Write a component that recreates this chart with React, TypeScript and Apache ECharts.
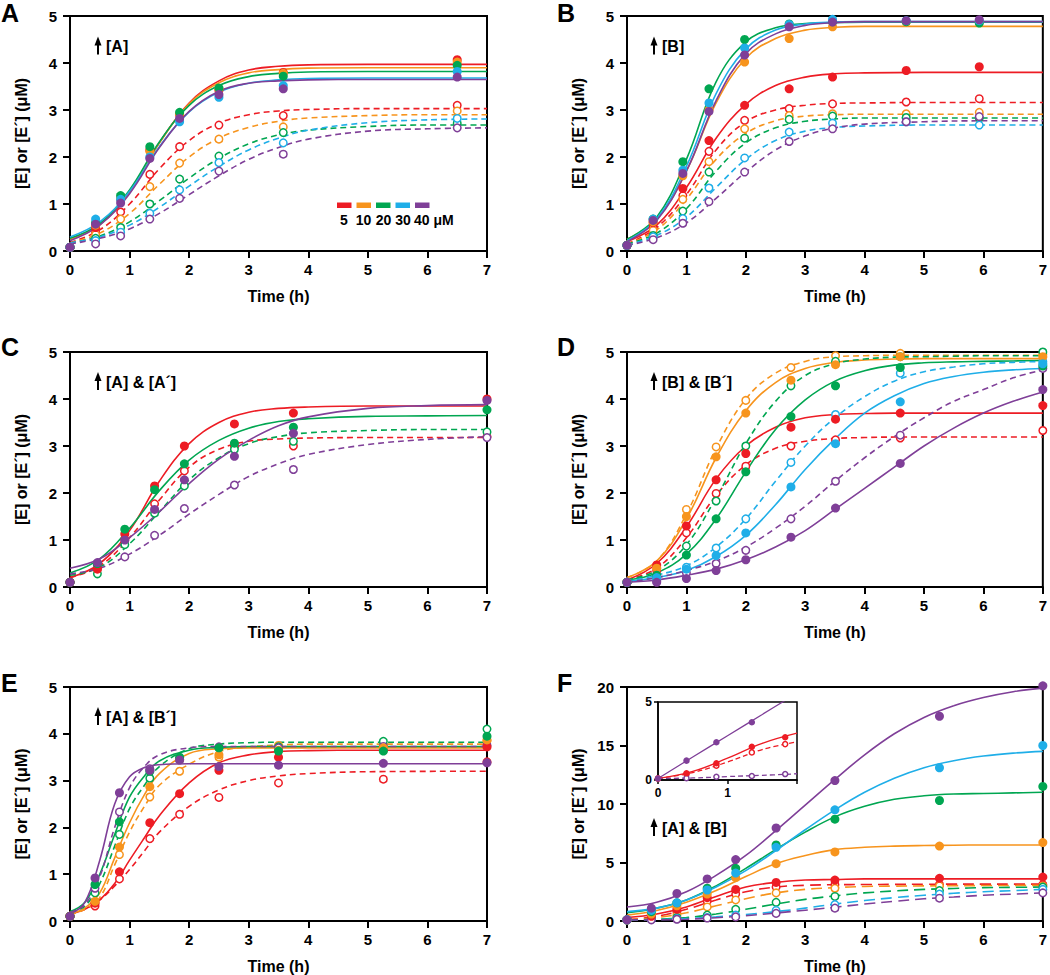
import React, { useEffect, useRef } from 'react';
import * as echarts from 'echarts';

const FONT = '"Liberation Sans", Arial, Helvetica, sans-serif';
const COLORS = ['#ED1C24', '#F7941D', '#00A651', '#1FAEE8', '#7F3F98'];

// fit-curve sample times
const FT12 = [0, 0.5, 1, 1.5, 2, 2.5, 3, 3.5, 4, 5, 6, 7];
const FT15 = [0, 0.5, 1, 1.5, 2, 2.5, 3, 3.5, 4, 4.5, 5, 5.5, 6, 6.5, 7];
const FTE = [0, 0.25, 0.5, 0.75, 1, 1.25, 1.5, 2, 2.5, 3, 3.5, 4, 5, 7];

// ---------- Panel A (red, orange, green, cyan, purple) ----------
const A_T = [0, 0.43, 0.85, 1.34, 1.84, 2.5, 3.58, 6.5];
const A_E = [
  [0.08, 0.5, 1.1, 2.15, 2.9, 3.42, 3.8, 4.07],
  [0.08, 0.55, 1.12, 2.12, 2.92, 3.45, 3.78, 4.02],
  [0.08, 0.6, 1.18, 2.22, 2.95, 3.47, 3.72, 3.95],
  [0.08, 0.68, 1.1, 2.0, 2.75, 3.27, 3.52, 3.82],
  [0.08, 0.57, 1.02, 1.97, 2.82, 3.33, 3.45, 3.7],
];
const A_EP = [
  [0.08, 0.4, 0.83, 1.63, 2.22, 2.68, 2.88, 3.1],
  [0.08, 0.35, 0.68, 1.37, 1.87, 2.38, 2.64, 2.98],
  [0.08, 0.27, 0.5, 1.0, 1.53, 2.02, 2.52, 2.72],
  [0.08, 0.22, 0.4, 0.8, 1.3, 1.88, 2.3, 2.82],
  [0.08, 0.15, 0.32, 0.68, 1.12, 1.7, 2.06, 2.62],
];
const A_FIT_E = [
  [0.25, 0.56, 1.27, 2.3, 3.15, 3.62, 3.85, 3.93, 3.96, 3.97, 3.97, 3.97],
  [0.25, 0.56, 1.27, 2.3, 3.13, 3.58, 3.79, 3.86, 3.89, 3.9, 3.9, 3.9],
  [0.27, 0.58, 1.3, 2.32, 3.1, 3.52, 3.71, 3.78, 3.81, 3.82, 3.82, 3.82],
  [0.3, 0.62, 1.27, 2.22, 2.96, 3.38, 3.57, 3.64, 3.67, 3.68, 3.68, 3.68],
  [0.22, 0.55, 1.22, 2.2, 2.97, 3.4, 3.57, 3.62, 3.64, 3.65, 3.65, 3.65],
];
const A_FIT_EP = [
  [0.18, 0.45, 1.0, 1.75, 2.35, 2.72, 2.9, 2.98, 3.01, 3.03, 3.03, 3.03],
  [0.17, 0.38, 0.8, 1.42, 2.0, 2.4, 2.63, 2.76, 2.83, 2.88, 2.9, 2.9],
  [0.17, 0.32, 0.62, 1.07, 1.55, 1.97, 2.28, 2.47, 2.57, 2.65, 2.68, 2.68],
  [0.17, 0.3, 0.55, 0.93, 1.38, 1.8, 2.15, 2.4, 2.57, 2.73, 2.79, 2.81],
  [0.15, 0.27, 0.47, 0.8, 1.2, 1.6, 1.95, 2.2, 2.38, 2.55, 2.6, 2.62],
];

// ---------- Panel B ----------
const B_T = [0, 0.44, 0.94, 1.38, 1.98, 2.73, 3.46, 4.7, 5.93];
const B_E = [
  [0.12, 0.6, 1.33, 2.35, 3.1, 3.45, 3.7, 3.84, 3.92],
  [0.12, 0.62, 1.6, 3.0, 4.02, 4.52, 4.77, 4.87, 4.87],
  [0.12, 0.68, 1.9, 3.45, 4.5, 4.83, 4.88, 4.88, 4.85],
  [0.12, 0.68, 1.72, 3.15, 4.32, 4.82, 4.93, 4.9, 4.9],
  [0.12, 0.65, 1.65, 2.97, 4.17, 4.77, 4.87, 4.9, 4.92],
];
const B_EP = [
  [0.12, 0.5, 1.18, 2.12, 2.78, 3.03, 3.13, 3.17, 3.24],
  [0.12, 0.44, 1.1, 1.9, 2.6, 2.88, 2.92, 2.92, 2.95],
  [0.12, 0.33, 0.85, 1.68, 2.4, 2.8, 2.87, 2.84, 2.83],
  [0.12, 0.3, 0.69, 1.34, 1.98, 2.53, 2.72, 2.75, 2.68],
  [0.12, 0.24, 0.59, 1.05, 1.68, 2.33, 2.6, 2.75, 2.86],
];
const B_FIT_E = [
  [0.2, 0.55, 1.35, 2.4, 3.12, 3.52, 3.7, 3.77, 3.79, 3.8, 3.8, 3.8],
  [0.25, 0.68, 1.7, 3.15, 4.1, 4.52, 4.7, 4.76, 4.78, 4.78, 4.78, 4.78],
  [0.25, 0.72, 1.95, 3.6, 4.45, 4.75, 4.84, 4.86, 4.87, 4.87, 4.87, 4.87],
  [0.22, 0.68, 1.8, 3.35, 4.3, 4.7, 4.83, 4.87, 4.88, 4.88, 4.88, 4.88],
  [0.2, 0.65, 1.7, 3.2, 4.2, 4.62, 4.8, 4.86, 4.88, 4.88, 4.88, 4.88],
];
const B_FIT_EP = [
  [0.15, 0.5, 1.2, 2.15, 2.75, 3.0, 3.1, 3.14, 3.15, 3.16, 3.16, 3.16],
  [0.15, 0.45, 1.1, 1.95, 2.5, 2.77, 2.87, 2.9, 2.91, 2.91, 2.91, 2.91],
  [0.15, 0.38, 0.9, 1.7, 2.3, 2.62, 2.76, 2.81, 2.83, 2.83, 2.83, 2.83],
  [0.13, 0.33, 0.72, 1.35, 1.95, 2.35, 2.55, 2.63, 2.66, 2.68, 2.68, 2.68],
  [0.12, 0.28, 0.6, 1.12, 1.68, 2.15, 2.45, 2.62, 2.7, 2.75, 2.77, 2.77],
];

// ---------- Panel C (red, green, purple) ----------
const C_T = [0, 0.46, 0.92, 1.42, 1.92, 2.76, 3.75, 7];
const C_E = [
  [0.1, 0.38, 1.13, 2.15, 3.0, 3.47, 3.7, 4.0],
  [0.1, 0.5, 1.23, 2.07, 2.62, 3.06, 3.4, 3.77],
  [0.1, 0.52, 1.0, 1.65, 2.28, 2.78, 3.27, 3.97],
];
const C_EP = [
  [0.1, 0.4, 1.0, 1.77, 2.47, 3.0, 3.0, 3.2],
  [0.1, 0.28, 0.9, 1.57, 2.15, 2.93, 3.1, 3.3],
  [0.1, 0.45, 0.64, 1.1, 1.67, 2.17, 2.5, 3.18],
];
const C_FIT_E = [
  [0.2, 0.5, 1.2, 2.25, 3.05, 3.5, 3.72, 3.8, 3.83, 3.85, 3.85, 3.85],
  [0.3, 0.6, 1.25, 2.05, 2.7, 3.12, 3.38, 3.52, 3.58, 3.63, 3.64, 3.65],
  [0.4, 0.6, 1.05, 1.6, 2.2, 2.72, 3.12, 3.43, 3.62, 3.8, 3.86, 3.88],
];
const C_FIT_EP = [
  [0.2, 0.45, 1.05, 1.85, 2.55, 2.93, 3.1, 3.15, 3.17, 3.18, 3.18, 3.18],
  [0.25, 0.42, 0.92, 1.6, 2.28, 2.75, 3.05, 3.2, 3.28, 3.33, 3.35, 3.35],
  [0.28, 0.4, 0.7, 1.1, 1.55, 1.97, 2.35, 2.62, 2.82, 3.03, 3.14, 3.2],
];

// ---------- Panel D ----------
const D_T = [0, 0.5, 1, 1.5, 2, 2.76, 3.51, 4.6, 7];
const D_E = [
  [0.1, 0.47, 1.3, 2.28, 2.84, 3.4, 3.57, 3.7, 3.86],
  [0.1, 0.4, 1.5, 2.77, 3.7, 4.4, 4.73, 4.9, 4.9],
  [0.1, 0.25, 0.68, 1.45, 2.45, 3.63, 4.28, 4.67, 4.7],
  [0.1, 0.2, 0.38, 0.67, 1.15, 2.13, 3.05, 3.94, 4.75],
  [0.1, 0.1, 0.18, 0.35, 0.58, 1.06, 1.68, 2.63, 4.2],
];
const D_EP = [
  [0.1, 0.35, 1.15, 1.99, 2.57, 3.0, 3.13, 3.17, 3.33],
  [0.1, 0.42, 1.65, 2.98, 3.97, 4.67, 4.92, 4.97, 4.95],
  [0.1, 0.22, 0.87, 1.83, 3.0, 4.28, 4.8, 4.9, 5.0],
  [0.1, 0.15, 0.42, 0.83, 1.45, 2.65, 3.67, 4.55, 4.8],
  [0.1, 0.12, 0.3, 0.5, 0.78, 1.45, 2.25, 3.23, 4.65],
];
const D_FIT_E = [
  [0.15, 0.5, 1.28, 2.3, 3.0, 3.4, 3.6, 3.67, 3.69, 3.7, 3.7, 3.7, 3.7, 3.7, 3.7],
  [0.2, 0.55, 1.45, 2.75, 3.75, 4.35, 4.65, 4.78, 4.83, 4.85, 4.86, 4.86, 4.86, 4.86, 4.86],
  [0.15, 0.3, 0.7, 1.45, 2.45, 3.35, 3.98, 4.38, 4.6, 4.72, 4.77, 4.79, 4.8, 4.81, 4.82],
  [0.12, 0.2, 0.35, 0.65, 1.1, 1.75, 2.5, 3.15, 3.7, 4.07, 4.33, 4.48, 4.57, 4.62, 4.65],
  [0.1, 0.15, 0.25, 0.38, 0.58, 0.85, 1.2, 1.65, 2.1, 2.55, 3.0, 3.38, 3.7, 3.95, 4.15],
];
const D_FIT_EP = [
  [0.15, 0.4, 1.05, 1.95, 2.6, 2.95, 3.1, 3.16, 3.18, 3.19, 3.19, 3.19, 3.19, 3.19, 3.19],
  [0.2, 0.55, 1.55, 2.95, 4.0, 4.55, 4.8, 4.9, 4.92, 4.93, 4.93, 4.93, 4.93, 4.93, 4.93],
  [0.15, 0.35, 0.9, 1.9, 3.05, 3.95, 4.5, 4.75, 4.85, 4.89, 4.9, 4.91, 4.92, 4.92, 4.92],
  [0.12, 0.25, 0.45, 0.85, 1.45, 2.25, 3.0, 3.6, 4.05, 4.38, 4.58, 4.68, 4.75, 4.78, 4.8],
  [0.1, 0.2, 0.35, 0.55, 0.85, 1.25, 1.72, 2.25, 2.75, 3.2, 3.6, 3.95, 4.2, 4.45, 4.62],
];

// ---------- Panel E (red, orange, green, purple) ----------
const E_T = [0, 0.42, 0.83, 1.34, 1.84, 2.5, 3.5, 5.26, 7];
const E_E = [
  [0.1, 0.38, 1.05, 2.1, 2.72, 3.22, 3.5, 3.65, 3.72],
  [0.1, 0.42, 1.58, 2.87, 3.45, 3.55, 3.65, 3.7, 3.87],
  [0.1, 0.78, 2.12, 3.2, 3.5, 3.7, 3.63, 3.63, 3.95],
  [0.1, 0.92, 2.74, 3.22, 3.44, 3.3, 3.33, 3.37, 3.38],
];
const E_EP = [
  [0.1, 0.32, 0.9, 1.76, 2.28, 2.64, 2.95, 3.03, 3.4],
  [0.1, 0.4, 1.42, 2.65, 3.2, 3.5, 3.75, 3.75, 3.85],
  [0.1, 0.6, 1.85, 3.05, 3.45, 3.7, 3.72, 3.84, 4.1],
  [0.1, 0.7, 2.33, 3.25, 3.45, 3.72, 3.7, 3.73, 3.75],
];
const E_FIT_E = [
  [0.15, 0.25, 0.45, 0.8, 1.3, 1.78, 2.25, 2.95, 3.38, 3.55, 3.62, 3.64, 3.65, 3.65],
  [0.15, 0.28, 0.6, 1.35, 2.1, 2.7, 3.15, 3.58, 3.68, 3.7, 3.7, 3.7, 3.7, 3.7],
  [0.2, 0.4, 1.0, 1.85, 2.65, 3.1, 3.42, 3.65, 3.71, 3.73, 3.73, 3.73, 3.73, 3.73],
  [0.15, 0.4, 1.3, 2.5, 3.08, 3.28, 3.34, 3.36, 3.36, 3.36, 3.36, 3.36, 3.36, 3.36],
];
const E_FIT_EP = [
  [0.15, 0.25, 0.45, 0.75, 1.1, 1.5, 1.9, 2.45, 2.8, 3.0, 3.1, 3.15, 3.19, 3.2],
  [0.15, 0.25, 0.5, 1.2, 1.9, 2.45, 2.9, 3.35, 3.62, 3.72, 3.76, 3.78, 3.78, 3.78],
  [0.2, 0.32, 0.8, 1.6, 2.4, 2.9, 3.3, 3.68, 3.78, 3.81, 3.82, 3.82, 3.82, 3.82],
  [0.18, 0.35, 0.95, 2.0, 2.85, 3.3, 3.55, 3.7, 3.73, 3.73, 3.73, 3.73, 3.73, 3.73],
];

// ---------- Panel F ----------
const F_T = [0, 0.41, 0.84, 1.35, 1.83, 2.51, 3.5, 5.26, 7];
const F_E = [
  [0.1, 0.4, 1.0, 2.0, 2.7, 3.3, 3.5, 3.65, 3.75],
  [0.1, 0.6, 1.3, 2.3, 3.7, 4.9, 5.9, 6.4, 6.7],
  [0.1, 0.8, 1.55, 2.8, 4.5, 6.5, 8.7, 10.3, 11.5],
  [0.1, 0.9, 1.55, 2.65, 4.1, 6.3, 9.5, 13.1, 15.0],
  [0.1, 1.1, 2.35, 3.6, 5.25, 7.95, 12.0, 17.5, 20.1],
];
const F_EP = [
  [0.1, 0.3, 0.8, 1.7, 2.3, 2.9, 3.1, 3.1, 3.1],
  [0.1, 0.25, 0.5, 1.2, 1.8, 2.4, 2.8, 3.0, 3.0],
  [0.1, 0.2, 0.3, 0.5, 1.0, 1.6, 2.1, 2.6, 2.9],
  [0.1, 0.15, 0.2, 0.3, 0.5, 0.9, 1.4, 2.3, 2.7],
  [0.1, 0.1, 0.15, 0.25, 0.35, 0.65, 1.1, 1.95, 2.4],
];
const F_FIT_E = [
  [0.3, 0.6, 1.2, 2.1, 2.9, 3.3, 3.5, 3.55, 3.6, 3.6, 3.6, 3.6, 3.6, 3.6, 3.6],
  [0.5, 0.9, 1.6, 2.6, 3.8, 4.9, 5.6, 6.1, 6.3, 6.4, 6.45, 6.48, 6.5, 6.5, 6.5],
  [0.7, 1.1, 1.8, 3.0, 4.5, 6.1, 7.6, 8.9, 9.8, 10.4, 10.7, 10.85, 10.9, 10.95, 11.0],
  [0.8, 1.1, 1.8, 2.9, 4.3, 6.0, 7.8, 9.5, 11.0, 12.2, 13.1, 13.7, 14.1, 14.35, 14.5],
  [1.2, 1.6, 2.5, 3.9, 5.6, 7.7, 9.9, 12.1, 14.2, 16.0, 17.4, 18.4, 19.1, 19.6, 19.9],
];
const F_FIT_EP = [
  [0.1, 0.4, 1.0, 1.8, 2.5, 2.9, 3.05, 3.1, 3.12, 3.13, 3.14, 3.15, 3.15, 3.15, 3.15],
  [0.1, 0.3, 0.7, 1.3, 1.9, 2.4, 2.7, 2.85, 2.95, 2.98, 3.0, 3.02, 3.03, 3.04, 3.05],
  [0.1, 0.15, 0.3, 0.6, 1.0, 1.45, 1.85, 2.15, 2.4, 2.57, 2.7, 2.78, 2.85, 2.88, 2.9],
  [0.1, 0.12, 0.2, 0.35, 0.55, 0.8, 1.1, 1.45, 1.75, 2.0, 2.2, 2.37, 2.5, 2.6, 2.7],
  [0.1, 0.1, 0.15, 0.28, 0.45, 0.68, 0.92, 1.18, 1.45, 1.68, 1.9, 2.05, 2.2, 2.3, 2.4],
];

// ---------- Panel F inset (red, purple) ----------
const INS_T = [0, 0.41, 0.84, 1.35, 1.83];
const INS_E = [
  [0.1, 0.43, 1.07, 2.13, 2.74],
  [0.1, 1.24, 2.42, 3.7, null],
];
const INS_EP = [
  [0.1, 0.38, 0.92, 1.77, 2.3],
  [0.1, 0.12, 0.21, 0.26, 0.38],
];
const INS_FT = [0, 0.5, 1, 1.5, 2];
const INS_FIT_E = [
  [0.1, 0.55, 1.4, 2.35, 3.0],
  [0.1, 1.47, 2.84, 4.2, 5.57],
];
const INS_FIT_EP = [
  [0.1, 0.48, 1.15, 1.95, 2.45],
  [0.1, 0.13, 0.22, 0.3, 0.4],
];

const X_TITLE = 'Time (h)';
const Y_TITLE = '[E] or [E\u00B4] (\u03BCM)';
const LETTERS = ['A', 'B', 'C', 'D', 'E', 'F'];
const NOTES = ['[A]', '[B]', '[A] & [A\u00B4]', '[B] & [B\u00B4]', '[A] & [B\u00B4]', '[A] & [B]'];
const LEGEND_LABELS = ['5', '10', '20', '30', '40 \u03BCM'];

// layout (pixels)
const GRIDS = [
  [70, 16, 417, 235],
  [627, 16, 416, 235],
  [70, 352, 417, 235],
  [627, 352, 416, 235],
  [70, 687, 417, 235],
  [627, 687, 416, 235],
];
const INSET = [658, 702, 139, 78];
const LETTER_POS = [[1, 0], [557, 0], [1, 334], [557, 334], [1, 670], [557, 670]];
const NOTE_POS = [[106, 46.5], [662, 46.5], [106, 382], [662, 382], [106, 717], [662, 828]];

const PANELS = [
  { t: A_T, e: A_E, ep: A_EP, ft: FT12, fe: A_FIT_E, fep: A_FIT_EP, cols: [0, 1, 2, 3, 4], ymax: 5, yint: 1, dash: [6, 4] },
  { t: B_T, e: B_E, ep: B_EP, ft: FT12, fe: B_FIT_E, fep: B_FIT_EP, cols: [0, 1, 2, 3, 4], ymax: 5, yint: 1, dash: [6, 4] },
  { t: C_T, e: C_E, ep: C_EP, ft: FT12, fe: C_FIT_E, fep: C_FIT_EP, cols: [0, 2, 4], ymax: 5, yint: 1, dash: [6, 4] },
  { t: D_T, e: D_E, ep: D_EP, ft: FT15, fe: D_FIT_E, fep: D_FIT_EP, cols: [0, 1, 2, 3, 4], ymax: 5, yint: 1, dash: [6, 4] },
  { t: E_T, e: E_E, ep: E_EP, ft: FTE, fe: E_FIT_E, fep: E_FIT_EP, cols: [0, 1, 2, 4], ymax: 5, yint: 1, dash: [6, 4] },
  { t: F_T, e: F_E, ep: F_EP, ft: FT15, fe: F_FIT_E, fep: F_FIT_EP, cols: [0, 1, 2, 3, 4], ymax: 20, yint: 5, dash: [11, 6] },
];

function pairs(ts: number[], vs: (number | null)[]) {
  const out: number[][] = [];
  ts.forEach((t, i) => {
    const v = vs[i];
    if (v !== null && v !== undefined) out.push([t, v]);
  });
  return out;
}

function lineSeries(ax: number, ts: number[], vs: number[], color: string, dash: number[] | null, width: number) {
  return {
    type: 'line',
    xAxisIndex: ax,
    yAxisIndex: ax,
    data: pairs(ts, vs),
    smooth: 0.4,
    showSymbol: false,
    symbol: 'none',
    clip: true,
    silent: true,
    z: 2,
    lineStyle: { color, width, type: dash ? dash : 'solid', cap: 'butt' },
  };
}

function scatterSeries(ax: number, ts: number[], vs: (number | null)[], color: string, open: boolean, size: number) {
  return {
    type: 'scatter',
    xAxisIndex: ax,
    yAxisIndex: ax,
    data: pairs(ts, vs),
    symbol: 'circle',
    symbolSize: open ? size - 1.5 : size,
    silent: true,
    clip: false,
    z: open ? 3 : 4,
    itemStyle: open
      ? { color: '#ffffff', borderColor: color, borderWidth: 1.5, opacity: 1 }
      : { color, opacity: 1 },
  };
}

const labelStyle = (size: number) => ({
  fontFamily: FONT,
  fontWeight: 'bold' as const,
  fontSize: size,
  color: '#000',
});

function makeAxes(i: number, xmax: number, ymax: number, yint: number, inset: boolean) {
  const lw = inset ? 1.5 : 2;
  const fs = inset ? 12 : 15;
  const tl = inset ? 4 : 7;
  const xAxis: any = {
    gridIndex: i,
    type: 'value',
    min: 0,
    max: xmax,
    interval: 1,
    axisLine: { show: true, onZero: false, lineStyle: { color: '#000', width: lw } },
    axisTick: { show: true, inside: false, length: tl, lineStyle: { color: '#000', width: lw } },
    axisLabel: {
      ...labelStyle(fs),
      margin: inset ? 7 : 11,
      showMinLabel: true,
      showMaxLabel: true,
      formatter: inset ? (v: number) => (v === 2 ? '' : String(v)) : (v: number) => String(v),
    },
    splitLine: { show: false },
  };
  const yAxis: any = {
    gridIndex: i,
    type: 'value',
    min: 0,
    max: ymax,
    interval: yint,
    axisLine: { show: true, onZero: false, lineStyle: { color: '#000', width: lw } },
    axisTick: { show: true, inside: false, length: tl, lineStyle: { color: '#000', width: lw } },
    axisLabel: { ...labelStyle(fs), margin: inset ? 6 : 13, showMinLabel: true, showMaxLabel: true },
    splitLine: { show: false },
  };
  if (!inset) {
    xAxis.name = X_TITLE;
    xAxis.nameLocation = 'middle';
    xAxis.nameGap = 37;
    xAxis.nameTextStyle = labelStyle(16);
    yAxis.name = Y_TITLE;
    yAxis.nameLocation = 'middle';
    yAxis.nameGap = 41;
    yAxis.nameTextStyle = labelStyle(16);
  }
  return { xAxis, yAxis };
}

function textEl(text: string, x: number, y: number, font: string, align: string, valign = 'middle') {
  return {
    type: 'text',
    silent: true,
    z: 100,
    style: {
      text,
      x,
      y,
      font,
      fill: '#000',
      textAlign: align,
      align,
      textVerticalAlign: valign,
      verticalAlign: valign,
    },
  };
}

function buildOption() {
  const grid: any[] = [];
  const xAxis: any[] = [];
  const yAxis: any[] = [];
  const lines: any[] = [];
  const points: any[] = [];

  PANELS.forEach((p, i) => {
    const g = GRIDS[i];
    grid.push({
      left: g[0], top: g[1], width: g[2], height: g[3],
      show: true, borderColor: '#000', borderWidth: 2, backgroundColor: 'transparent', containLabel: false,
    });
    const ax = makeAxes(i, 7, p.ymax, p.yint, false);
    xAxis.push(ax.xAxis);
    yAxis.push(ax.yAxis);
    p.cols.forEach((c, k) => {
      const color = COLORS[c];
      lines.push(lineSeries(i, p.ft, p.fe[k], color, null, 1.6));
      lines.push(lineSeries(i, p.ft, p.fep[k], color, p.dash, 1.6));
      points.push(scatterSeries(i, p.t, p.ep[k], color, true, 9));
      points.push(scatterSeries(i, p.t, p.e[k], color, false, 9));
    });
  });

  // inset of F
  const ii = PANELS.length;
  grid.push({
    left: INSET[0], top: INSET[1], width: INSET[2], height: INSET[3],
    show: true, borderColor: '#000', borderWidth: 1.5, backgroundColor: '#fff', containLabel: false,
  });
  const ia = makeAxes(ii, 2, 5, 5, true);
  xAxis.push(ia.xAxis);
  yAxis.push(ia.yAxis);
  const insCols = [0, 4];
  insCols.forEach((c, k) => {
    const color = COLORS[c];
    lines.push(lineSeries(ii, INS_FT, INS_FIT_E[k], color, null, 1.3));
    lines.push(lineSeries(ii, INS_FT, INS_FIT_EP[k], color, [5, 3], 1.3));
    points.push(scatterSeries(ii, INS_T, INS_EP[k], color, true, 6.5));
    points.push(scatterSeries(ii, INS_T, INS_E[k], color, false, 6.5));
  });

  // graphics
  const graphic: any[] = [];
  LETTERS.forEach((L, i) => {
    graphic.push(textEl(L, LETTER_POS[i][0], LETTER_POS[i][1], `bold 25px ${FONT}`, 'left', 'top'));
  });
  NOTES.forEach((n, i) => {
    const [x, cy] = NOTE_POS[i];
    const ax = x - 8;
    graphic.push(textEl(n, x, cy, `bold 16px ${FONT}`, 'left'));
    graphic.push({
      type: 'line', silent: true, z: 100,
      shape: { x1: ax, y1: cy - 3, x2: ax, y2: cy + 8 },
      style: { stroke: '#000', lineWidth: 2 },
    });
    graphic.push({
      type: 'polygon', silent: true, z: 100,
      shape: { points: [[ax - 3.5, cy - 1], [ax, cy - 10], [ax + 3.5, cy - 1]] },
      style: { fill: '#000' },
    });
  });
  // legend in panel A
  const legX = [337, 356.5, 376, 395.5, 415];
  const legLabelX = [344, 363.5, 383.5, 403, 414];
  COLORS.forEach((c, i) => {
    graphic.push({
      type: 'rect', silent: true, z: 100,
      shape: { x: legX[i], y: 202.5, width: 14.5, height: 5.5 },
      style: { fill: c },
    });
    graphic.push(
      textEl(LEGEND_LABELS[i], legLabelX[i], 220, `bold 14px ${FONT}`, i === 4 ? 'left' : 'center')
    );
  });

  return {
    animation: false,
    backgroundColor: '#ffffff',
    textStyle: { fontFamily: FONT },
    grid,
    xAxis,
    yAxis,
    series: [...lines, ...points],
    graphic,
  };
}

export default function App() {
  const ref = useRef<HTMLDivElement>(null);
  useEffect(() => {
    if (!ref.current) return;
    const chart = echarts.init(ref.current, undefined, { renderer: 'svg' });
    chart.setOption(buildOption() as any);
    return () => chart.dispose();
  }, []);
  return (
    <div
      ref={ref}
      style={{ position: 'fixed', left: 0, top: 0, width: 1050, height: 975, background: '#fff' }}
    />
  );
}
